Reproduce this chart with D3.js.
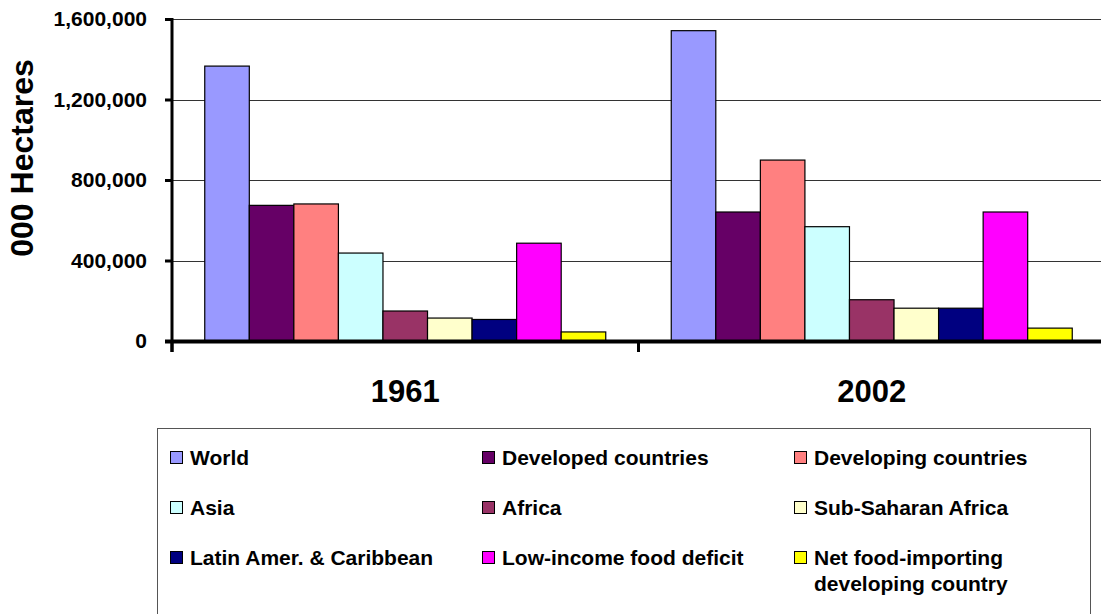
<!DOCTYPE html>
<html>
<head>
<meta charset="utf-8">
<script src="https://cdn.jsdelivr.net/npm/d3@7"></script>
<style>
  body { margin: 0; background: #fff; }
  svg { display: block; font-family: Arial, "Liberation Sans", sans-serif; font-weight: bold; }
</style>
</head>
<body>
<svg id="chart" width="1101" height="614"></svg>
<script>
const years = ['1961', '2002'];

const seriesNames = [
    'World', 'Developed countries', 'Developing countries',
    'Asia', 'Africa', 'Sub-Saharan Africa',
    'Latin Amer. & Caribbean', 'Low-income food deficit', 'Net food-importing developing country'
];

const values1961 = [1366000, 674000, 681000, 437000, 149000, 114000, 107000, 486000, 45000];
const values2002 = [1542000, 641000, 899000, 568000, 205000, 163000, 163000, 641000, 64000];

const seriesColors = ['#9999FF', '#660066', '#FF8080', '#CCFFFF', '#993366', '#FFFFCC', '#000080', '#FF00FF', '#FFFF00'];

const yTicks = [0, 400000, 800000, 1200000, 1600000];

const svg = d3.select('#chart');

const plotLeft = 172, plotRight = 1105, plotTop = 19, plotBottom = 341;

const x0 = d3.scaleBand()
    .domain(years)
    .range([plotLeft, plotRight]);

const x1 = d3.scaleBand()
    .domain(seriesNames)
    .range([0, x0.bandwidth()])
    .paddingOuter(0.735);

const y = d3.scaleLinear()
    .domain([0, 1600000])
    .range([plotBottom, plotTop]);

const color = d3.scaleOrdinal(seriesNames, seriesColors);

const table = years.map((yr, i) => ({
    year: yr,
    vals: seriesNames.map((s, j) => ({ name: s, value: (i === 0 ? values1961 : values2002)[j] }))
}));

// gridlines
svg.append('g').selectAll('line')
    .data(yTicks.filter(d => d > 0))
    .join('line')
    .attr('x1', plotLeft).attr('x2', 1101)
    .attr('y1', d => Math.round(y(d)) + 0.5).attr('y2', d => Math.round(y(d)) + 0.5)
    .attr('stroke', '#333')
    .attr('stroke-width', 1);

// bars
svg.append('g').selectAll('g')
    .data(table)
    .join('g')
    .attr('transform', d => `translate(${x0(d.year)},0)`)
    .selectAll('rect')
    .data(d => d.vals)
    .join('rect')
    .attr('x', d => x1(d.name))
    .attr('y', d => y(d.value))
    .attr('width', x1.bandwidth())
    .attr('height', d => y(0) - y(d.value))
    .attr('fill', d => color(d.name))
    .attr('stroke', '#000')
    .attr('stroke-width', 1.2);

// y axis with ticks and labels
const yAxis = svg.append('g')
    .attr('transform', `translate(${plotLeft},0)`)
    .call(d3.axisLeft(y).tickValues(yTicks).tickFormat(d3.format(',d')).tickSize(7).tickPadding(18).tickSizeOuter(0));
yAxis.select('.domain').remove();
yAxis.selectAll('.tick line').attr('stroke', '#000').attr('stroke-width', 3);
yAxis.selectAll('.tick text')
    .attr('fill', '#000')
    .style('font-size', '21px')
    .style('font-weight', 'bold')
    .style('font-family', 'Arial, "Liberation Sans", sans-serif');

svg.append('line')
    .attr('x1', plotLeft).attr('x2', plotLeft)
    .attr('y1', plotTop - 1).attr('y2', 352)
    .attr('stroke', '#000').attr('stroke-width', 3);

// x axis line
svg.append('line')
    .attr('x1', 165).attr('x2', 1101)
    .attr('y1', plotBottom + 0.5).attr('y2', plotBottom + 0.5)
    .attr('stroke', '#000').attr('stroke-width', 4);

// category boundary ticks
svg.append('g').selectAll('line')
    .data(years.map(d => x0(d)).concat([plotRight]))
    .join('line')
    .attr('x1', d => d).attr('x2', d => d)
    .attr('y1', plotBottom).attr('y2', 352)
    .attr('stroke', '#000').attr('stroke-width', 3);

// category labels
svg.append('g').selectAll('text')
    .data(years)
    .join('text')
    .attr('x', d => x0(d) + x0.bandwidth() / 2)
    .attr('y', 402)
    .attr('text-anchor', 'middle')
    .style('font-size', '31px')
    .text(d => d);

// y title
svg.append('text')
    .attr('transform', 'translate(33,158) rotate(-90)')
    .attr('text-anchor', 'middle')
    .style('font-size', '32px')
    .text('000 Hectares');

// legend
svg.append('rect')
    .attr('x', 157.5).attr('y', 428.5)
    .attr('width', 933).attr('height', 200)
    .attr('fill', '#fff')
    .attr('stroke', '#555')
    .attr('stroke-width', 1);

const legendCols = [170, 482, 794];
const legendRows = [458, 508, 558];

const item = svg.append('g').selectAll('g')
    .data(seriesNames)
    .join('g')
    .attr('transform', (d, i) => `translate(${legendCols[i % 3]},${legendRows[Math.floor(i / 3)]})`);

item.append('rect')
    .attr('x', 0.5).attr('y', -6.5)
    .attr('width', 12).attr('height', 12)
    .attr('fill', d => color(d))
    .attr('stroke', '#000')
    .attr('stroke-width', 1);

item.append('text')
    .attr('x', 20)
    .attr('y', 7)
    .style('font-size', '21px')
    .each(function (d) {
        const t = d3.select(this);
        if (d.startsWith('Net food')) {
            t.append('tspan').attr('x', 20).attr('y', 7).text('Net food-importing');
            t.append('tspan').attr('x', 20).attr('y', 33).text('developing country');
        } else {
            t.text(d);
        }
    });
</script>
</body>
</html>
